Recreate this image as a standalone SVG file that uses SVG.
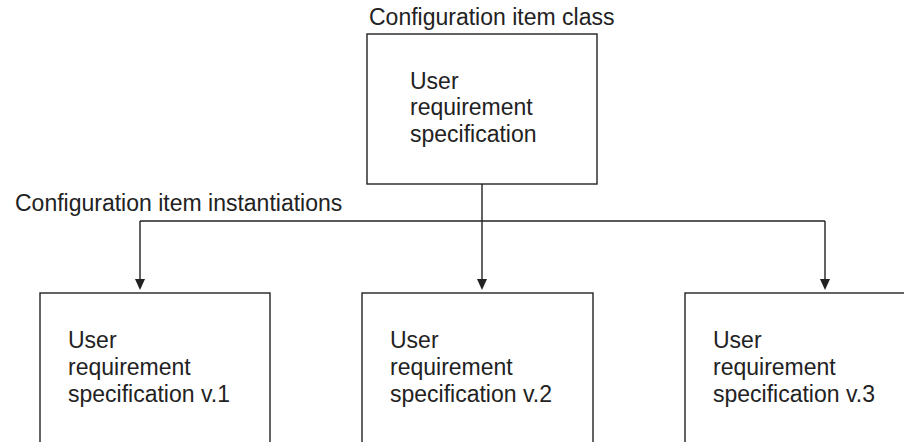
<svg xmlns="http://www.w3.org/2000/svg" width="904" height="442" viewBox="0 0 904 442">
<style>
.box{fill:#fff;stroke:#222;stroke-width:1.4}
.t{font-family:"Liberation Sans",Arial,sans-serif;font-size:23px;fill:#222}
.c{fill:none;stroke:#222;stroke-width:1.4}
.ah{fill:#222}
</style>
<rect width="904" height="442" fill="#fff"/>
<text class="t" x="369" y="25">Configuration item class</text>
<text class="t" x="15" y="211">Configuration item instantiations</text>
<g id="connectors">
<line class="c" x1="482" y1="184" x2="482" y2="221"/>
<line class="c" x1="140" y1="221" x2="825" y2="221"/>
<path class="c" d="M140,221 V280"/>
<path class="ah" d="M135,279 L145,279 L140,290 Z"/>
<path class="c" d="M482,221 V280"/>
<path class="ah" d="M477,279 L487,279 L482,290 Z"/>
<path class="c" d="M825,221 V280"/>
<path class="ah" d="M820,279 L830,279 L825,290 Z"/>
</g>
<g id="class">
<rect class="box" x="367" y="34" width="230" height="150"/>
<text class="t" x="410" y="89">User</text>
<text class="t" x="410" y="115">requirement</text>
<text class="t" x="410" y="142">specification</text>
</g>
<g id="v1">
<rect class="box" x="40" y="293" width="230" height="160"/>
<text class="t" x="68" y="348">User</text>
<text class="t" x="68" y="375">requirement</text>
<text class="t" x="68" y="402">specification v.1</text>
</g>
<g id="v2">
<rect class="box" x="362" y="293" width="231" height="160"/>
<text class="t" x="390" y="348">User</text>
<text class="t" x="390" y="375">requirement</text>
<text class="t" x="390" y="402">specification v.2</text>
</g>
<g id="v3">
<rect class="box" x="685" y="293" width="240" height="160"/>
<text class="t" x="713" y="348">User</text>
<text class="t" x="713" y="375">requirement</text>
<text class="t" x="713" y="402">specification v.3</text>
</g>
</svg>
